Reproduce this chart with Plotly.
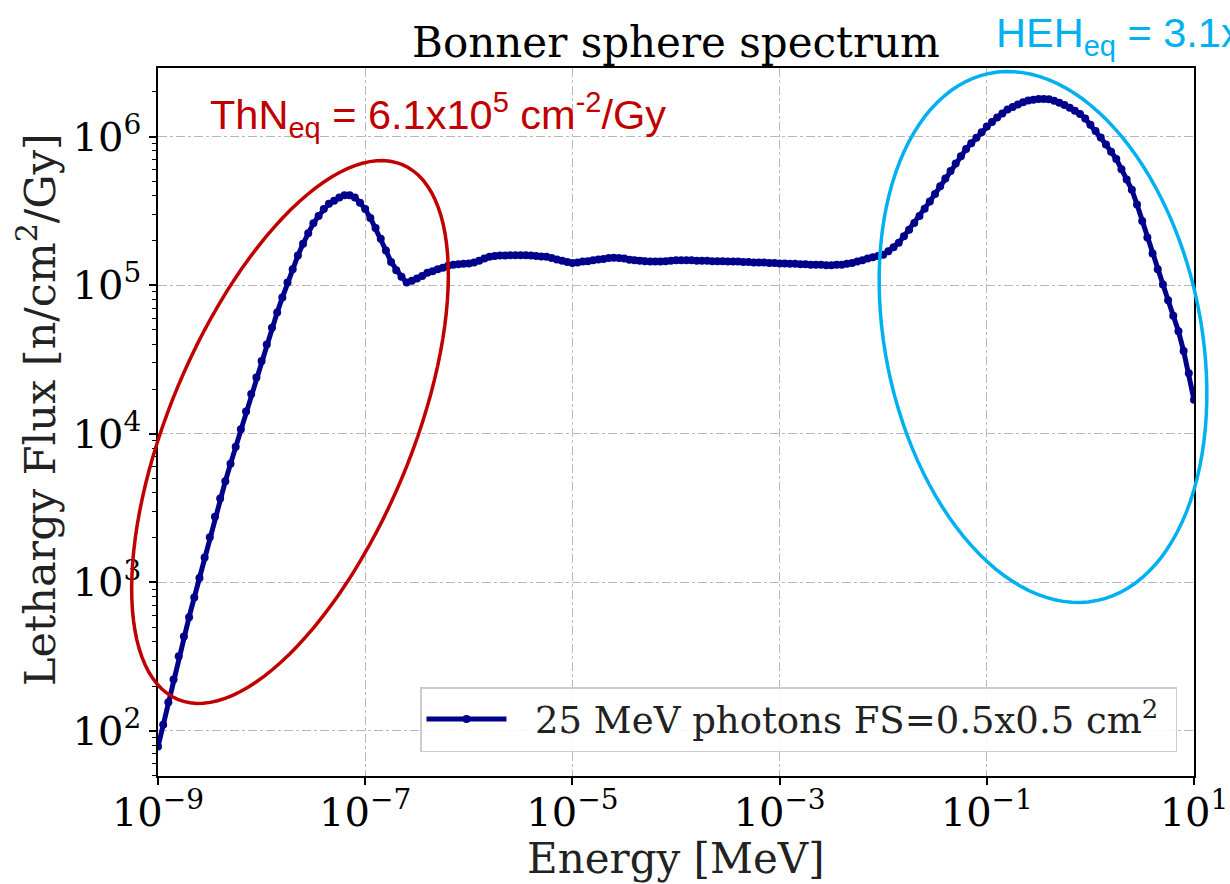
import math
import plotly.graph_objects as go

# ---------------- data ----------------
energy_mev = [
    1.000e-9, 1.122e-9, 1.259e-9, 1.413e-9, 1.585e-9, 1.778e-9, 1.995e-9, 2.239e-9, 2.512e-9, 2.818e-9,
    3.162e-9, 3.548e-9, 3.981e-9, 4.467e-9, 5.012e-9, 5.623e-9, 6.310e-9, 7.079e-9, 7.943e-9, 8.913e-9,
    1.000e-8, 1.122e-8, 1.259e-8, 1.413e-8, 1.585e-8, 1.778e-8, 1.995e-8, 2.239e-8, 2.512e-8, 2.818e-8,
    3.162e-8, 3.548e-8, 3.981e-8, 4.467e-8, 5.012e-8, 5.623e-8, 6.310e-8, 7.079e-8, 7.943e-8, 8.913e-8,
    1.000e-7, 1.122e-7, 1.259e-7, 1.413e-7, 1.585e-7, 1.778e-7, 1.995e-7, 2.239e-7, 2.512e-7, 2.818e-7,
    3.162e-7, 3.548e-7, 3.981e-7, 4.467e-7, 5.012e-7, 5.623e-7, 6.310e-7, 7.079e-7, 7.943e-7, 8.913e-7,
    1.000e-6, 1.122e-6, 1.259e-6, 1.413e-6, 1.585e-6, 1.778e-6, 1.995e-6, 2.239e-6, 2.512e-6, 2.818e-6,
    3.162e-6, 3.548e-6, 3.981e-6, 4.467e-6, 5.012e-6, 5.623e-6, 6.310e-6, 7.079e-6, 7.943e-6, 8.913e-6,
    1.000e-5, 1.122e-5, 1.259e-5, 1.413e-5, 1.585e-5, 1.778e-5, 1.995e-5, 2.239e-5, 2.512e-5, 2.818e-5,
    3.162e-5, 3.548e-5, 3.981e-5, 4.467e-5, 5.012e-5, 5.623e-5, 6.310e-5, 7.079e-5, 7.943e-5, 8.913e-5,
    1.000e-4, 1.122e-4, 1.259e-4, 1.413e-4, 1.585e-4, 1.778e-4, 1.995e-4, 2.239e-4, 2.512e-4, 2.818e-4,
    3.162e-4, 3.548e-4, 3.981e-4, 4.467e-4, 5.012e-4, 5.623e-4, 6.310e-4, 7.079e-4, 7.943e-4, 8.913e-4,
    1.000e-3, 1.122e-3, 1.259e-3, 1.413e-3, 1.585e-3, 1.778e-3, 1.995e-3, 2.239e-3, 2.512e-3, 2.818e-3,
    3.162e-3, 3.548e-3, 3.981e-3, 4.467e-3, 5.012e-3, 5.623e-3, 6.310e-3, 7.079e-3, 7.943e-3, 8.913e-3,
    1.000e-2, 1.122e-2, 1.259e-2, 1.413e-2, 1.585e-2, 1.778e-2, 1.995e-2, 2.239e-2, 2.512e-2, 2.818e-2,
    3.162e-2, 3.548e-2, 3.981e-2, 4.467e-2, 5.012e-2, 5.623e-2, 6.310e-2, 7.079e-2, 7.943e-2, 8.913e-2,
    1.000e-1, 1.122e-1, 1.259e-1, 1.413e-1, 1.585e-1, 1.778e-1, 1.995e-1, 2.239e-1, 2.512e-1, 2.818e-1,
    3.162e-1, 3.548e-1, 3.981e-1, 4.467e-1, 5.012e-1, 5.623e-1, 6.310e-1, 7.079e-1, 7.943e-1, 8.913e-1,
    1.000e0, 1.122e0, 1.259e0, 1.413e0, 1.585e0, 1.778e0, 1.995e0, 2.239e0, 2.512e0, 2.818e0,
    3.162e0, 3.548e0, 3.981e0, 4.467e0, 5.012e0, 5.623e0, 6.310e0, 7.079e0, 7.943e0, 8.913e0,
    1.000e1,
]

lethargy_flux = [
    78.5, 110, 156, 222, 318, 432, 583, 791, 1070, 1470,
    2010, 2760, 3660, 4790, 6270, 8180, 10700, 14100, 18500, 23900,
    30900, 39900, 51600, 65500, 82400, 104000, 128000, 158000, 190000, 223000,
    261000, 292000, 325000, 353000, 370000, 389000, 403000, 403000, 389000, 359000,
    325000, 283000, 242000, 205000, 171000, 143000, 126000, 114000, 104000, 107000,
    111000, 115000, 121000, 124000, 128000, 131000, 135000, 137000, 138000, 139000,
    140000, 142000, 146000, 151000, 155000, 157000, 158000, 158000, 159000, 159000,
    159000, 159000, 158000, 157000, 156000, 155000, 152000, 149000, 146000, 143000,
    141000, 142000, 144000, 145000, 147000, 149000, 150000, 152000, 153000, 152000,
    151000, 148000, 147000, 146000, 145000, 144000, 144000, 144000, 145000, 146000,
    147000, 147000, 147000, 147000, 146000, 146000, 146000, 145000, 145000, 145000,
    144000, 144000, 144000, 143000, 143000, 142000, 142000, 142000, 141000, 141000,
    140000, 140000, 139000, 139000, 138000, 138000, 137000, 137000, 137000, 136000,
    136000, 137000, 137000, 139000, 141000, 144000, 147000, 151000, 154000, 157000,
    160000, 169000, 180000, 193000, 213000, 236000, 262000, 292000, 327000, 366000,
    410000, 462000, 521000, 587000, 658000, 736000, 824000, 902000, 982000, 1070000,
    1170000, 1250000, 1340000, 1430000, 1520000, 1580000, 1640000, 1700000, 1750000, 1770000,
    1790000, 1790000, 1780000, 1740000, 1690000, 1630000, 1560000, 1490000, 1420000, 1320000,
    1200000, 1090000, 986000, 883000, 789000, 705000, 603000, 514000, 438000, 349000,
    270000, 209000, 163000, 128000, 101000, 79100, 62200, 48900, 36000, 25500,
    16900,
]

x_tick_vals = [1e-9, 1e-7, 1e-5, 1e-3, 1e-1, 1e1]
x_tick_text = ["10<sup>\u22129</sup>", "10<sup>\u22127</sup>", "10<sup>\u22125</sup>",
               "10<sup>\u22123</sup>", "10<sup>\u22121</sup>", "10<sup>1</sup>"]
y_tick_vals = [1e2, 1e3, 1e4, 1e5, 1e6]
y_tick_text = ["10<sup>2</sup>", "10<sup>3</sup>", "10<sup>4</sup>", "10<sup>5</sup>", "10<sup>6</sup>"]

series_name = "\u00a0\u00a025 MeV photons FS=0.5x0.5 cm<sup>2</sup>\u00a0"
title_text = "Bonner sphere spectrum"
x_title = "Energy [MeV]"
y_title = "Lethargy Flux [n/cm<sup>2</sup>/Gy]"
thn_text = "ThN<sub>eq</sub> = 6.1x10<sup>5</sup> cm<sup>-2</sup>/Gy"
heh_text = "HEH<sub>eq</sub> = 3.1x10<sup>6</sup> cm<sup>-2</sup>/Gy"

# ---------------- geometry ----------------
W, H = 1230, 884
ML, MR, MT, MB = 158, 36, 68, 108
PW, PH = W - ML - MR, H - MT - MB


def to_paper(x, y):
    return (x - ML) / PW, (H - MB - y) / PH


def ellipse_path(cx, cy, a, b, ang_deg, n=120):
    th = math.radians(ang_deg)
    pts = []
    for i in range(n + 1):
        t = 2 * math.pi * i / n
        x = cx + a * math.cos(t) * math.cos(th) - b * math.sin(t) * math.sin(th)
        y = cy + a * math.cos(t) * math.sin(th) + b * math.sin(t) * math.cos(th)
        px, py = to_paper(x, y)
        pts.append(f"{px:.5f},{py:.5f}")
    return "M " + " L ".join(pts) + " Z"


SERIF = "DejaVu Serif"
SANS = "Liberation Sans, Arial"
BLUE = "#00008B"
RED = "#C00000"
CYAN = "#00B0F0"

fig = go.Figure()
fig.add_trace(go.Scatter(
    x=energy_mev, y=lethargy_flux, mode="lines+markers", name=series_name,
    line=dict(color=BLUE, width=5),
    marker=dict(color=BLUE, size=8, symbol="circle"),
))

axis_common = dict(
    showline=True, linecolor="black", linewidth=1.5, mirror=True,
    ticks="outside", ticklen=7, tickwidth=1.5, tickcolor="black",
    showgrid=True, gridcolor="#b8b8b8", gridwidth=1, griddash="dashdot",
    zeroline=False, automargin=False,
    tickfont=dict(family=SERIF, size=40, color="black"),
)

fig.update_xaxes(
    type="log", range=[-9, 1], tickmode="array", tickvals=x_tick_vals, ticktext=x_tick_text,
    ticklabelstandoff=-7,
    **axis_common,
)
fig.update_yaxes(
    type="log", range=[1.697, 6.461], tickmode="array", tickvals=y_tick_vals, ticktext=y_tick_text,
    minor=dict(ticks="outside", ticklen=4, tickwidth=1, tickcolor="black", dtick="D1", showgrid=False),
    **axis_common,
)

shapes = [
    dict(type="path", path=ellipse_path(290, 432, 290, 121, -67.2), xref="paper", yref="paper",
         line=dict(color=RED, width=3.5), layer="above"),
    dict(type="path", path=ellipse_path(1043, 337, 269, 158, 78.5), xref="paper", yref="paper",
         line=dict(color=CYAN, width=3.5), layer="above"),
]

tx, ty = to_paper(208, 115)
hx, hy = to_paper(994, 33)
yx, yy = to_paper(37, 410)
xx, xy = to_paper(676, 858)
annotations = [
    dict(text=thn_text, x=tx, y=ty, xref="paper", yref="paper", xanchor="left", yanchor="middle",
         showarrow=False, font=dict(family=SANS, size=41.5, color=RED)),
    dict(text=heh_text, x=hx, y=hy, xref="paper", yref="paper", xanchor="left", yanchor="middle",
         showarrow=False, font=dict(family=SANS, size=41.5, color=CYAN)),
    dict(text=y_title, x=yx, y=yy, xref="paper", yref="paper", xanchor="center", yanchor="middle",
         textangle=-90, showarrow=False, font=dict(family=SERIF, size=43, color="#222")),
    dict(text=x_title, x=xx, y=xy, xref="paper", yref="paper", xanchor="center", yanchor="middle",
         showarrow=False, font=dict(family=SERIF, size=42, color="#222")),
]

lx, ly = to_paper(1177, 752)
fig.update_layout(
    width=W, height=H, autosize=False,
    margin=dict(l=ML, r=MR, t=MT, b=MB, autoexpand=False),
    paper_bgcolor="white", plot_bgcolor="white",
    title=dict(text=title_text, x=0.5, xref="paper", xanchor="center", y=1 - 42 / H, yref="container",
               yanchor="middle", font=dict(family=SERIF, size=42, color="black")),
    showlegend=True,
    legend=dict(x=lx, y=ly, xanchor="right", yanchor="bottom", bgcolor="rgba(255,255,255,0.85)",
                bordercolor="#cccccc", borderwidth=1.5, itemwidth=80,
                font=dict(family=SERIF, size=37, color="#222")),
    shapes=shapes, annotations=annotations,
)

fig.write_html("out.html")
